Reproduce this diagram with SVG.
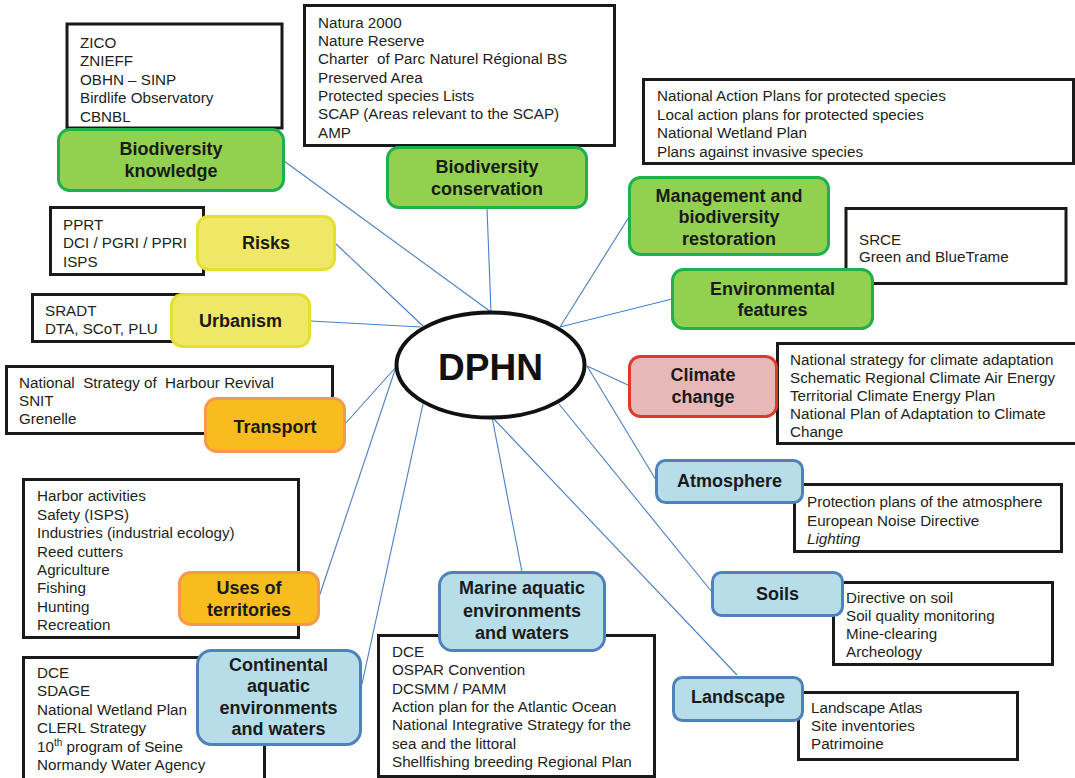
<svg xmlns="http://www.w3.org/2000/svg" width="1075" height="778" viewBox="0 0 1075 778">
<style>
.bg{fill:#ffffff}
.box{fill:#ffffff;stroke:#1a1a1a;stroke-width:3}
.t{font-family:"Liberation Sans",Arial,sans-serif;font-size:15.2px;fill:#231f20}
.n{font-family:"Liberation Sans",Arial,sans-serif;font-size:18px;font-weight:bold;fill:#1a1a1a;text-anchor:middle}
.green{fill:#92d050;stroke:#1db04c;stroke-width:3}
.yellow{fill:#efe866;stroke:#e6df33;stroke-width:3}
.orange{fill:#f8bc1f;stroke:#f59a4a;stroke-width:3}
.red{fill:#e6b9b8;stroke:#e0382b;stroke-width:3}
.blue{fill:#b7dee8;stroke:#4f81bd;stroke-width:3}
.c{stroke:#4a7ec4;stroke-width:1.1;fill:none}
</style>
<rect class="bg" x="0" y="0" width="1075" height="778"/>

<g id="connectors">
<line class="c" x1="284" y1="161" x2="491" y2="312"/>
<line class="c" x1="487" y1="208" x2="491" y2="312"/>
<line class="c" x1="335" y1="243" x2="423" y2="326"/>
<line class="c" x1="310" y1="321" x2="421" y2="327"/>
<line class="c" x1="345" y1="424" x2="396" y2="367"/>
<line class="c" x1="319" y1="597" x2="396" y2="367"/>
<line class="c" x1="362" y1="684" x2="423" y2="404"/>
<line class="c" x1="522" y1="572" x2="492" y2="417"/>
<line class="c" x1="737" y1="675" x2="492" y2="417"/>
<line class="c" x1="712" y1="592" x2="559" y2="404"/>
<line class="c" x1="656" y1="480" x2="587" y2="366"/>
<line class="c" x1="630" y1="386" x2="587" y2="366"/>
<line class="c" x1="672" y1="299" x2="560" y2="327"/>
<line class="c" x1="629" y1="217" x2="560" y2="327"/>
</g>

<g id="list-biodiversity-knowledge">
<rect class="box" x="67" y="24" width="215" height="104"/>
<text class="t" x="80" y="47.5">ZICO</text>
<text class="t" x="80" y="66">ZNIEFF</text>
<text class="t" x="80" y="84.5">OBHN – SINP</text>
<text class="t" x="80" y="103">Birdlife Observatory</text>
<text class="t" x="80" y="121.5">CBNBL</text>
</g>
<g id="list-biodiversity-conservation">
<rect class="box" x="304.5" y="5.5" width="310" height="140"/>
<text class="t" x="318" y="27.5">Natura 2000</text>
<text class="t" x="318" y="46">Nature Reserve</text>
<text class="t" x="318" y="64.3" xml:space="preserve">Charter  of Parc Naturel Régional BS</text>
<text class="t" x="318" y="82.6">Preserved Area</text>
<text class="t" x="318" y="101">Protected species Lists</text>
<text class="t" x="318" y="119.2">SCAP (Areas relevant to the SCAP)</text>
<text class="t" x="318" y="137.5">AMP</text>
</g>
<g id="list-management">
<rect class="box" x="643.5" y="79.5" width="430" height="84"/>
<text class="t" x="657" y="101">National Action Plans for protected species</text>
<text class="t" x="657" y="119.5">Local action plans for protected species</text>
<text class="t" x="657" y="138">National Wetland Plan</text>
<text class="t" x="657" y="156.5">Plans against invasive species</text>
</g>
<g id="list-environmental-features">
<rect class="box" x="846" y="208.5" width="220" height="75"/>
<text class="t" x="859" y="245">SRCE</text>
<text class="t" x="859" y="262.3">Green and BlueTrame</text>
</g>
<g id="list-risks">
<rect class="box" x="50.5" y="207.5" width="153" height="67"/>
<text class="t" x="63" y="230">PPRT</text>
<text class="t" x="63" y="248.3">DCI / PGRI / PPRI</text>
<text class="t" x="63" y="266.6">ISPS</text>
</g>
<g id="list-urbanism">
<rect class="box" x="32.5" y="294.5" width="160" height="47"/>
<text class="t" x="45" y="316">SRADT</text>
<text class="t" x="45" y="334.3">DTA, SCoT, PLU</text>
</g>
<g id="list-transport">
<rect class="box" x="6.5" y="366.5" width="326" height="67"/>
<text class="t" x="19" y="388.3" xml:space="preserve">National  Strategy of  Harbour Revival</text>
<text class="t" x="19" y="406.3">SNIT</text>
<text class="t" x="19" y="424.3">Grenelle</text>
</g>
<g id="list-climate-change">
<rect class="box" x="777.5" y="343.5" width="302" height="100"/>
<text class="t" x="790" y="364.5">National strategy for climate adaptation</text>
<text class="t" x="790" y="382.7">Schematic Regional Climate Air Energy</text>
<text class="t" x="790" y="401">Territorial Climate Energy Plan</text>
<text class="t" x="790" y="419">National Plan of Adaptation to Climate</text>
<text class="t" x="790" y="437">Change</text>
</g>
<g id="list-atmosphere">
<rect class="box" x="794.5" y="484.5" width="267" height="67"/>
<text class="t" x="807" y="507.3">Protection plans of the atmosphere</text>
<text class="t" x="807" y="525.5">European Noise Directive</text>
<text class="t" x="807" y="543.5" font-style="italic">Lighting</text>
</g>
<g id="list-uses-of-territories">
<rect class="box" x="23.5" y="479.5" width="275" height="158"/>
<text class="t" x="37" y="501">Harbor activities</text>
<text class="t" x="37" y="519.5">Safety (ISPS)</text>
<text class="t" x="37" y="538">Industries (industrial ecology)</text>
<text class="t" x="37" y="556.5">Reed cutters</text>
<text class="t" x="37" y="575">Agriculture</text>
<text class="t" x="37" y="593.3">Fishing</text>
<text class="t" x="37" y="611.7">Hunting</text>
<text class="t" x="37" y="630">Recreation</text>
</g>
<g id="list-continental">
<rect class="box" x="23.5" y="657.5" width="241" height="125"/>
<text class="t" x="37" y="677.7">DCE</text>
<text class="t" x="37" y="696.3">SDAGE</text>
<text class="t" x="37" y="715">National Wetland Plan</text>
<text class="t" x="37" y="733.3">CLERL Strategy</text>
<text class="t" x="37" y="751.7">10<tspan font-size="10px" dy="-6">th</tspan><tspan dy="6"> program of Seine</tspan></text>
<text class="t" x="37" y="770">Normandy Water Agency</text>
</g>
<g id="list-marine">
<rect class="box" x="378.5" y="635.5" width="276" height="141"/>
<text class="t" x="392" y="657">DCE</text>
<text class="t" x="392" y="675.3">OSPAR Convention</text>
<text class="t" x="392" y="693.7">DCSMM / PAMM</text>
<text class="t" x="392" y="712">Action plan for the Atlantic Ocean</text>
<text class="t" x="392" y="730.3">National Integrative Strategy for the</text>
<text class="t" x="392" y="748.7">sea and the littoral</text>
<text class="t" x="392" y="767">Shellfishing breeding Regional Plan</text>
</g>
<g id="list-soils">
<rect class="box" x="833.5" y="582.5" width="219" height="82"/>
<text class="t" x="846" y="602.7">Directive on soil</text>
<text class="t" x="846" y="621">Soil quality monitoring</text>
<text class="t" x="846" y="639.3">Mine-clearing</text>
<text class="t" x="846" y="657.3">Archeology</text>
</g>
<g id="list-landscape">
<rect class="box" x="798.5" y="692.5" width="219" height="67"/>
<text class="t" x="811" y="712.7">Landscape Atlas</text>
<text class="t" x="811" y="730.7">Site inventories</text>
<text class="t" x="811" y="749">Patrimoine</text>
</g>

<g id="node-biodiversity-knowledge">
<rect class="green" x="58.5" y="129.5" width="225" height="61" rx="11"/>
<text class="n" x="171" y="155">Biodiversity</text>
<text class="n" x="171" y="177">knowledge</text>
</g>
<g id="node-biodiversity-conservation">
<rect class="green" x="387.5" y="147.5" width="199" height="60" rx="11"/>
<text class="n" x="487" y="173.3">Biodiversity</text>
<text class="n" x="487" y="195">conservation</text>
</g>
<g id="node-management">
<rect class="green" x="629.5" y="177.5" width="199" height="77" rx="11"/>
<text class="n" x="729" y="201.7">Management and</text>
<text class="n" x="729" y="223.3">biodiversity</text>
<text class="n" x="729" y="245">restoration</text>
</g>
<g id="node-environmental-features">
<rect class="green" x="672.5" y="269.5" width="200" height="59" rx="11"/>
<text class="n" x="772.5" y="295">Environmental</text>
<text class="n" x="772.5" y="316">features</text>
</g>
<g id="node-risks">
<rect class="yellow" x="197.5" y="216.5" width="137" height="53" rx="11"/>
<text class="n" x="266" y="249.3">Risks</text>
</g>
<g id="node-urbanism">
<rect class="yellow" x="171.5" y="294.5" width="138" height="52" rx="11"/>
<text class="n" x="240.5" y="326.7">Urbanism</text>
</g>
<g id="node-transport">
<rect class="orange" x="205.5" y="398.5" width="139" height="53" rx="11"/>
<text class="n" x="275" y="432.7">Transport</text>
</g>
<g id="node-climate-change">
<rect class="red" x="629.5" y="356.5" width="147" height="60" rx="11"/>
<text class="n" x="703" y="381">Climate</text>
<text class="n" x="703" y="402.7">change</text>
</g>
<g id="node-atmosphere">
<rect class="blue" x="656.5" y="460.5" width="146" height="42" rx="9"/>
<text class="n" x="729.5" y="487.3">Atmosphere</text>
</g>
<g id="node-uses-of-territories">
<rect class="orange" x="179.5" y="572.5" width="139" height="52" rx="11"/>
<text class="n" x="249" y="594">Uses of</text>
<text class="n" x="249" y="615.7">territories</text>
</g>
<g id="node-continental">
<rect class="blue" x="197.5" y="650.5" width="163" height="94" rx="14"/>
<text class="n" x="278.5" y="670.7">Continental</text>
<text class="n" x="278.5" y="692">aquatic</text>
<text class="n" x="278.5" y="713.5">environments</text>
<text class="n" x="278.5" y="735">and waters</text>
</g>
<g id="node-marine">
<rect class="blue" x="439.5" y="572.5" width="165" height="78" rx="13"/>
<text class="n" x="522" y="594.3">Marine aquatic</text>
<text class="n" x="522" y="616.7">environments</text>
<text class="n" x="522" y="639">and waters</text>
</g>
<g id="node-soils">
<rect class="blue" x="712.5" y="572.5" width="130" height="43" rx="9"/>
<text class="n" x="777.5" y="600">Soils</text>
</g>
<g id="node-landscape">
<rect class="blue" x="673.5" y="677.5" width="129" height="43" rx="9"/>
<text class="n" x="738" y="703.3">Landscape</text>
</g>
<g id="node-dphn">
<ellipse cx="490.5" cy="365" rx="94" ry="52.5" fill="#ffffff" stroke="#111111" stroke-width="4"/>
<text x="490.5" y="380" text-anchor="middle" font-family="'Liberation Sans',Arial,sans-serif" font-weight="bold" font-size="37px" fill="#111111">DPHN</text>
</g>
</svg>
